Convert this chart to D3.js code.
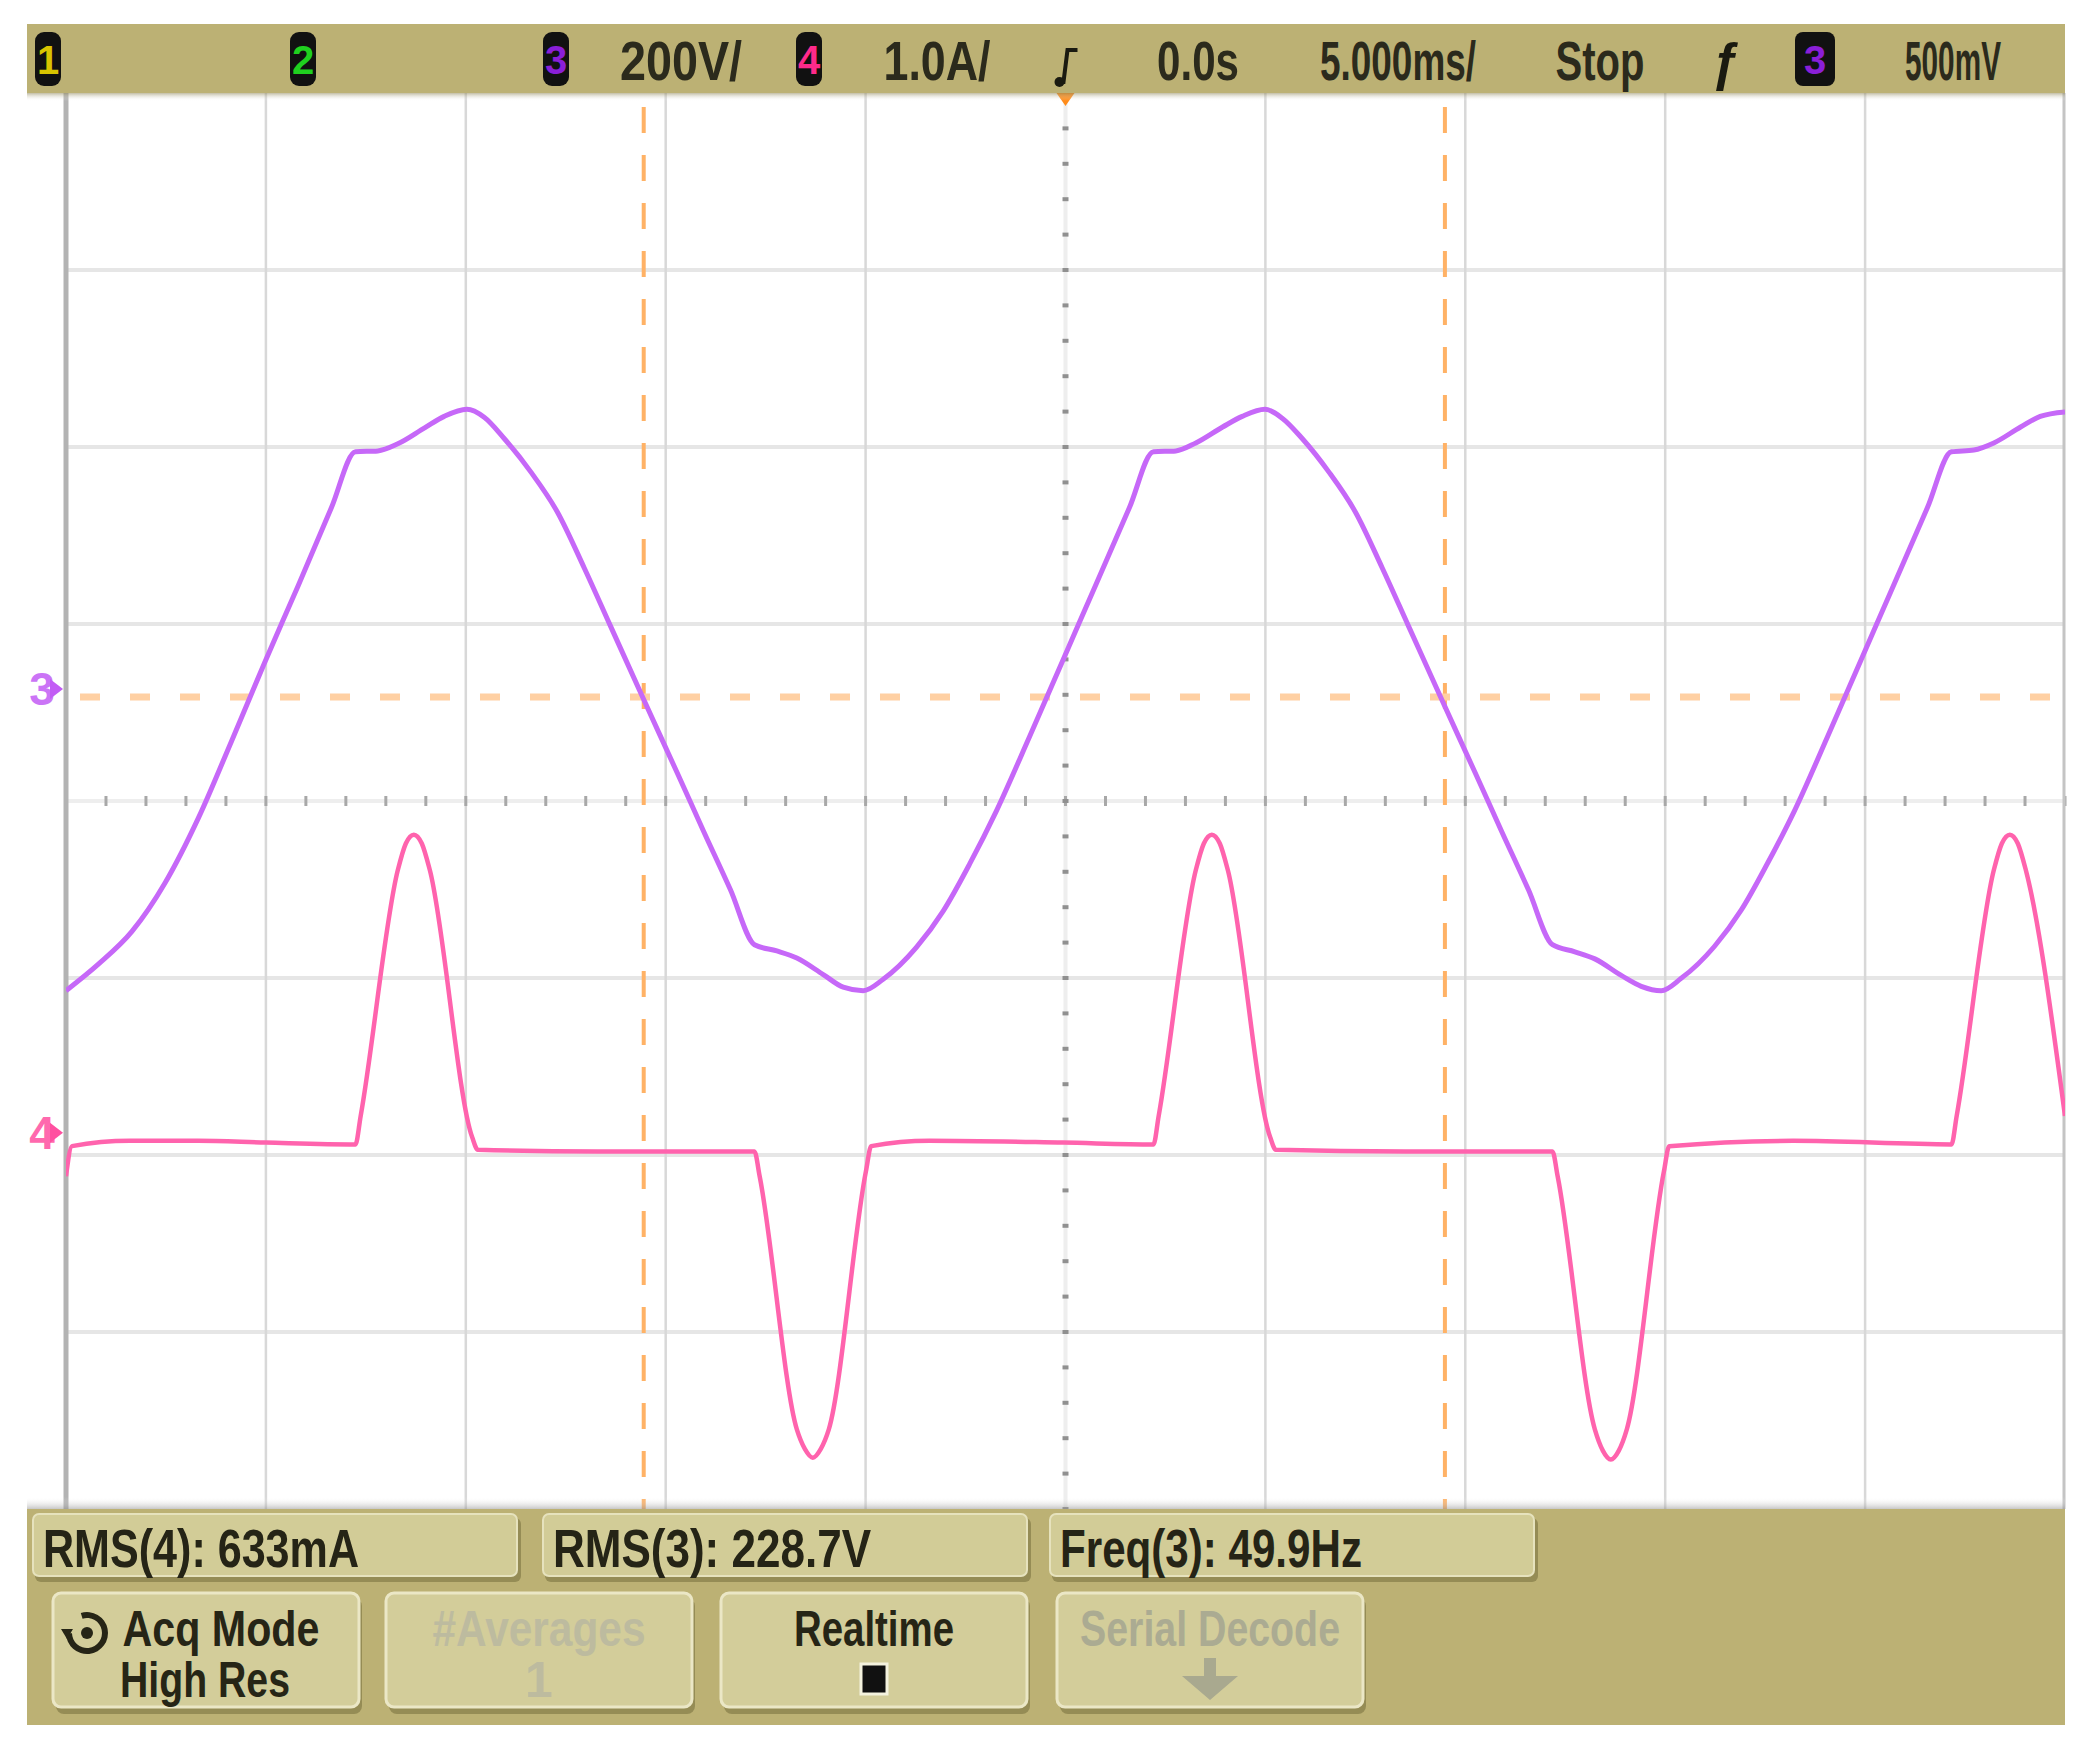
<!DOCTYPE html>
<html>
<head>
<meta charset="utf-8">
<script src="https://cdn.jsdelivr.net/npm/d3@7"></script>
<style>
  body { margin: 0; background: #fff; }
  svg text { font-family: "Liberation Sans Narrow", "Arial Narrow", "Liberation Sans", Arial, sans-serif; }
</style>
</head>
<body>
<div id="chart"></div>
<script>
// Channel 3 (mains voltage), [time ms, volts]
const ch3Trace = [
  [-25.0,-332],[-24.19,-302],[-23.35,-265],[-22.52,-210],[-21.69,-137],[-20.86,-50],[-20.03,39],[-19.19,126],
  [-18.36,214],[-17.76,277],[-17.20,278],[-16.70,286],[-16.03,304],[-15.54,317],[-14.97,325],[-14.54,316],
  [-14.04,292],[-13.37,254],[-12.71,209],[-12.04,146],[-11.38,80],[-10.55,-3],[-9.71,-86],[-9.05,-152],
  [-8.38,-218],[-7.78,-280],[-7.22,-287],[-6.72,-295],[-6.05,-314],[-5.56,-328],[-5.06,-332],[-4.56,-319],
  [-3.73,-283],[-3.06,-242],[-2.40,-189],[-1.73,-129],[-0.90,-45],[-0.07,41],[0.77,128],[1.60,214],
  [2.20,277],[2.76,278],[3.26,287],[3.93,305],[4.42,317],[4.99,325],[5.42,315],[5.92,292],
  [6.59,254],[7.25,209],[7.92,146],[8.58,80],[9.41,-3],[10.25,-86],[10.91,-152],[11.58,-218],
  [12.18,-280],[12.74,-288],[13.24,-296],[13.91,-315],[14.40,-327],[14.90,-332],[15.40,-318],[16.23,-282],
  [16.90,-241],[17.56,-188],[18.23,-129],[19.06,-45],[19.89,41],[20.73,128],[21.56,214],[22.16,277],
  [22.72,279],[23.22,287],[23.89,305],[24.38,317],[25.0,322]
];

// Channel 4 (current), [time ms, amps]
const ch4Trace = [
  [-25.0,-0.20],[-24.85,-0.03],[-23.4,0.0],[-21.7,0.0],[-20.0,-0.01],
  [-17.76,-0.02],[-17.63,0.14],[-16.70,1.53],[-16.50,1.68],[-16.30,1.73],[-16.10,1.68],[-15.90,1.53],
  [-14.84,0.02],[-14.70,-0.05],[-11.7,-0.06],
  [-7.78,-0.06],[-7.65,-0.20],[-6.72,-1.63],[-6.52,-1.74],[-6.32,-1.79],[-6.12,-1.74],[-5.92,-1.63],
  [-4.99,-0.17],[-4.86,-0.03],[-3.4,0.0],[-0.07,-0.01],
  [2.20,-0.02],[2.33,0.14],[3.26,1.53],[3.46,1.68],[3.66,1.73],[3.86,1.68],[4.06,1.53],
  [5.12,0.02],[5.26,-0.05],[8.5,-0.06],
  [12.18,-0.06],[12.31,-0.20],[13.24,-1.63],[13.44,-1.75],[13.64,-1.80],[13.84,-1.75],[14.04,-1.63],
  [14.97,-0.17],[15.10,-0.03],[18.2,0.0],
  [22.16,-0.02],[22.29,0.14],[23.22,1.53],[23.42,1.68],[23.62,1.73],[23.82,1.68],[24.02,1.53],
  [25.0,0.14]
];

// Cursors: two time cursors (ms) and one voltage cursor (V, channel 3)
const cursorTimes = [-10.55, 9.49];
const cursorVolts = [0];

// Status line text
const channelBadges = ['1', '2', '3', '4'];
const statusTexts = ['200V/', '1.0A/', '0.0s', '5.000ms/', 'Stop', '500mV'];
const triggerSource = '3';

// Measurement line and softkeys
const measurements = ['RMS(4): 633mA', 'RMS(3): 228.7V', 'Freq(3): 49.9Hz'];
const softkeys = [
  ['Acq Mode', 'High Res'],
  ['#Averages', '1'],
  ['Realtime', ''],
  ['Serial Decode', '']
];

function renderScope(containerId) {
  // ==========================================================================
  // STEP 1: SETUP
  // ==========================================================================
  const W = 2085, H = 1749;
  const plot = { left: 66, right: 2065, top: 93, bottom: 1509 };
  const panel = '#bcb174';

  const svg = d3.select(`#${containerId}`).append('svg')
    .attr('width', W).attr('height', H);

  // ==========================================================================
  // STEP 2: SCALES - 10 horizontal divisions at 5 ms, 8 vertical divisions
  // ==========================================================================
  const x = d3.scaleLinear().domain([-25, 25]).range([plot.left, plot.right]);
  const yDiv = d3.scaleLinear().domain([-4, 4]).range([plot.bottom, plot.top]);

  const ch3 = { perDiv: 200, offset: 0.588 };   // ground marker position in divs
  const ch4 = { perDiv: 1.0, offset: -1.92 };
  const yVolt = d3.scaleLinear()
    .domain([(-4 - ch3.offset) * ch3.perDiv, (4 - ch3.offset) * ch3.perDiv])
    .range([plot.bottom, plot.top]);
  const yAmp = d3.scaleLinear()
    .domain([(-4 - ch4.offset) * ch4.perDiv, (4 - ch4.offset) * ch4.perDiv])
    .range([plot.bottom, plot.top]);

  // ==========================================================================
  // STEP 3: GRATICULE
  // ==========================================================================
  const grid = svg.append('g');
  grid.append('rect')
    .attr('x', 27).attr('y', plot.top)
    .attr('width', plot.right - 27).attr('height', plot.bottom - plot.top)
    .attr('fill', '#fff');

  grid.selectAll('.hgrid')
    .data(d3.range(-3, 4).filter(d => d !== 0))
    .enter().append('line')
    .attr('x1', plot.left).attr('x2', plot.right)
    .attr('y1', d => yDiv(d)).attr('y2', d => yDiv(d))
    .attr('stroke', '#e6e6e6').attr('stroke-width', 4);

  grid.selectAll('.vgrid')
    .data(d3.range(-20, 21, 5).filter(d => d !== 0))
    .enter().append('line')
    .attr('x1', d => x(d)).attr('x2', d => x(d))
    .attr('y1', plot.top).attr('y2', plot.bottom)
    .attr('stroke', '#d8d8d8').attr('stroke-width', 2.5);

  // center axes: light line with minor ticks every 1/5 div
  grid.append('line')
    .attr('x1', plot.left).attr('x2', plot.right)
    .attr('y1', yDiv(0)).attr('y2', yDiv(0))
    .attr('stroke', '#eeeeee').attr('stroke-width', 4);
  grid.append('line')
    .attr('x1', x(0)).attr('x2', x(0))
    .attr('y1', plot.top).attr('y2', plot.bottom)
    .attr('stroke', '#eeeeee').attr('stroke-width', 4);
  grid.selectAll('.xminor')
    .data(d3.range(-25, 25.01, 1))
    .enter().append('line')
    .attr('x1', d => x(d)).attr('x2', d => x(d))
    .attr('y1', yDiv(0) - 5).attr('y2', yDiv(0) + 5)
    .attr('stroke', '#a8a8a8').attr('stroke-width', 3);
  grid.selectAll('.yminor')
    .data(d3.range(-4, 4.01, 0.2))
    .enter().append('line')
    .attr('x1', x(0) - 3).attr('x2', x(0) + 3)
    .attr('y1', d => yDiv(d)).attr('y2', d => yDiv(d))
    .attr('stroke', '#909090').attr('stroke-width', 4);

  // borders
  grid.append('line')
    .attr('x1', plot.left).attr('x2', plot.left)
    .attr('y1', plot.top).attr('y2', plot.bottom)
    .attr('stroke', '#b3b3b3').attr('stroke-width', 5);
  grid.append('line')
    .attr('x1', plot.right - 1).attr('x2', plot.right - 1)
    .attr('y1', plot.top).attr('y2', plot.bottom)
    .attr('stroke', '#c4c4c4').attr('stroke-width', 3);

  // ==========================================================================
  // STEP 4: CURSORS
  // ==========================================================================
  svg.append('g').selectAll('line')
    .data(cursorTimes)
    .enter().append('line')
    .attr('x1', d => x(d)).attr('x2', d => x(d))
    .attr('y1', plot.top + 14).attr('y2', plot.bottom)
    .attr('stroke', '#ffb266').attr('stroke-width', 4)
    .attr('stroke-dasharray', '26 22');

  svg.append('g').selectAll('line')
    .data(cursorVolts)
    .enter().append('line')
    .attr('x1', plot.left + 14).attr('x2', plot.right)
    .attr('y1', d => yVolt(d)).attr('y2', d => yVolt(d))
    .attr('stroke', '#ffd0a3').attr('stroke-width', 7)
    .attr('stroke-dasharray', '20 30');

  // ==========================================================================
  // STEP 5: TRACES
  // ==========================================================================
  svg.append('clipPath').attr('id', 'clip')
    .append('rect')
    .attr('x', plot.left).attr('y', plot.top)
    .attr('width', plot.right - plot.left).attr('height', plot.bottom - plot.top);

  const traces = svg.append('g').attr('clip-path', 'url(#clip)');

  traces.append('path')
    .datum(ch3Trace)
    .attr('fill', 'none')
    .attr('stroke', '#c668f8')
    .attr('stroke-width', 5)
    .attr('stroke-linejoin', 'round')
    .attr('d', d3.line().x(d => x(d[0])).y(d => yVolt(d[1])).curve(d3.curveMonotoneX));

  traces.append('path')
    .datum(ch4Trace)
    .attr('fill', 'none')
    .attr('stroke', '#ff63ad')
    .attr('stroke-width', 4.5)
    .attr('stroke-linejoin', 'round')
    .attr('d', d3.line().x(d => x(d[0])).y(d => yAmp(d[1])).curve(d3.curveMonotoneX));

  // ground markers on the left edge
  const markers = [
    { label: '3', y: yVolt(0), color: '#c25cf5' },
    { label: '4', y: yAmp(0), color: '#ff4fa0' }
  ];
  const mk = svg.append('g').selectAll('g')
    .data(markers).enter().append('g')
    .attr('transform', d => `translate(0,${d.y - 8})`);
  mk.append('text')
    .attr('x', 42).attr('y', 16)
    .attr('text-anchor', 'middle')
    .attr('fill', d => d.color)
    .attr('opacity', 0.85)
    .style('font-size', '46px').style('font-weight', 'bold')
    .text(d => d.label);
  mk.append('path')
    .attr('d', 'M50,-10 L63,0 L50,10 Z')
    .attr('fill', d => d.color);

  // trigger position marker
  svg.append('path')
    .attr('d', `M${x(0) - 9},${plot.top} L${x(0) + 9},${plot.top} L${x(0)},${plot.top + 13} Z`)
    .attr('fill', '#ff8c1a');

  // ==========================================================================
  // STEP 6: STATUS LINE
  // ==========================================================================
  const defs = svg.append('defs');
  const sh = defs.append('linearGradient').attr('id', 'shade').attr('x1', 0).attr('x2', 0).attr('y1', 0).attr('y2', 1);
  sh.append('stop').attr('offset', '0%').attr('stop-color', '#8f875a').attr('stop-opacity', 0.55);
  sh.append('stop').attr('offset', '100%').attr('stop-color', '#ffffff').attr('stop-opacity', 0);
  const shUp = defs.append('linearGradient').attr('id', 'shadeUp').attr('x1', 0).attr('x2', 0).attr('y1', 1).attr('y2', 0);
  shUp.append('stop').attr('offset', '0%').attr('stop-color', '#8f8f8f').attr('stop-opacity', 0.5);
  shUp.append('stop').attr('offset', '100%').attr('stop-color', '#ffffff').attr('stop-opacity', 0);

  svg.append('rect')
    .attr('x', 27).attr('y', 24).attr('width', plot.right - 27).attr('height', plot.top - 24)
    .attr('fill', panel);
  svg.append('rect')
    .attr('x', 27).attr('y', plot.top).attr('width', plot.right - 27).attr('height', 8)
    .attr('fill', 'url(#shade)');

  const badgeX = [48, 303, 556, 809];
  const badgeColors = ['#d8c400', '#1fd01f', '#8a1fd8', '#ff2a8a'];
  const badges = svg.append('g').selectAll('g')
    .data(channelBadges).enter().append('g')
    .attr('transform', (d, i) => `translate(${badgeX[i]},59)`);
  badges.append('rect')
    .attr('x', -13).attr('y', -27).attr('width', 26).attr('height', 54).attr('rx', 9)
    .attr('fill', '#111');
  badges.append('text')
    .attr('text-anchor', 'middle').attr('y', 15)
    .attr('fill', (d, i) => badgeColors[i])
    .style('font-size', '40px').style('font-weight', 'bold')
    .text(d => d);

  const statusX = [681, 937, 1198, 1398, 1600, 1953];
  const statusW = [122, 107, 82, 156, 89, 96];
  svg.append('g').selectAll('text')
    .data(statusTexts).enter().append('text')
    .attr('x', (d, i) => statusX[i] - statusW[i] / 2).attr('y', 80)
    .attr('textLength', (d, i) => statusW[i])
    .attr('lengthAdjust', 'spacingAndGlyphs')
    .attr('fill', '#2b2a1c')
    .style('font-size', '56px').style('font-weight', 'bold')
    .text(d => d);

  // trigger edge icon
  const tx = x(0);
  svg.append('path')
    .attr('d', `M${tx - 10},${82} L${tx - 2},${82} L${tx + 2},${50} L${tx + 12},${50}`)
    .attr('fill', 'none').attr('stroke', '#1a1a10').attr('stroke-width', 4);
  svg.append('circle').attr('cx', tx - 6).attr('cy', 82).attr('r', 5).attr('fill', '#1a1a10');
  svg.append('text')
    .attr('x', 1725).attr('y', 80).attr('text-anchor', 'middle')
    .attr('fill', '#1a1a10').style('font-size', '52px').style('font-style', 'italic').style('font-weight', 'bold')
    .text('ƒ');
  const trig = svg.append('g').attr('transform', 'translate(1815,59)');
  trig.append('rect')
    .attr('x', -20).attr('y', -27).attr('width', 40).attr('height', 54).attr('rx', 8)
    .attr('fill', '#111');
  trig.append('text')
    .attr('text-anchor', 'middle').attr('y', 15)
    .attr('fill', '#8a1fd8')
    .style('font-size', '40px').style('font-weight', 'bold')
    .text(triggerSource);

  // ==========================================================================
  // STEP 7: MEASUREMENTS AND SOFTKEYS
  // ==========================================================================
  svg.append('rect')
    .attr('x', 27).attr('y', plot.bottom).attr('width', plot.right - 27).attr('height', 1725 - plot.bottom)
    .attr('fill', panel);
  svg.append('rect')
    .attr('x', 27).attr('y', plot.bottom - 12).attr('width', plot.right - 27).attr('height', 12)
    .attr('fill', 'url(#shadeUp)');

  const measX = [33, 543, 1050];
  const measTextW = [316, 318, 302];
  const meas = svg.append('g').selectAll('g')
    .data(measurements).enter().append('g')
    .attr('transform', (d, i) => `translate(${measX[i]},1514)`);
  meas.append('rect')
    .attr('x', 2).attr('y', 4).attr('width', 486).attr('height', 64).attr('rx', 6)
    .attr('fill', '#958c55');
  meas.append('rect')
    .attr('width', 484).attr('height', 62).attr('rx', 6)
    .attr('fill', '#d2cc97').attr('stroke', '#e6e2bd').attr('stroke-width', 2);
  meas.append('text')
    .attr('x', 10).attr('y', 53)
    .attr('textLength', (d, i) => measTextW[i])
    .attr('lengthAdjust', 'spacingAndGlyphs')
    .attr('fill', '#252416')
    .style('font-size', '54px').style('font-weight', 'bold')
    .text(d => d);

  const keyX = [53, 386, 721, 1057];
  const keyColors = ['#262516', '#bdbb9f', '#262516', '#abab92'];
  const keyW1 = [197, 213, 160, 260];
  const keyW2 = [170, 0, 0, 0];
  const keys = svg.append('g').selectAll('g')
    .data(softkeys).enter().append('g')
    .attr('transform', (d, i) => `translate(${keyX[i]},1593)`);
  keys.append('rect')
    .attr('x', 3).attr('y', 5).attr('width', 306).attr('height', 116).attr('rx', 8)
    .attr('fill', '#958c55');
  keys.append('rect')
    .attr('width', 306).attr('height', 114).attr('rx', 8)
    .attr('fill', '#d3cd9a').attr('stroke', '#ebe7c6').attr('stroke-width', 3);
  keys.append('text')
    .attr('x', (d, i) => (i === 0 ? 168 : 153) - keyW1[i] / 2).attr('y', 53)
    .attr('textLength', (d, i) => keyW1[i])
    .attr('lengthAdjust', 'spacingAndGlyphs')
    .attr('fill', (d, i) => keyColors[i])
    .style('font-size', '50px').style('font-weight', 'bold')
    .text(d => d[0]);
  keys.append('text')
    .attr('x', (d, i) => keyW2[i] ? 152 - keyW2[i] / 2 : 153).attr('y', 104)
    .attr('text-anchor', (d, i) => keyW2[i] ? 'start' : 'middle')
    .each(function (d, i) { if (keyW2[i]) d3.select(this).attr('textLength', keyW2[i]).attr('lengthAdjust', 'spacingAndGlyphs'); })
    .attr('fill', (d, i) => keyColors[i])
    .style('font-size', '50px').style('font-weight', 'bold')
    .text(d => d[1]);

  // Acq mode knob icon
  const knob = svg.append('g').attr('transform', 'translate(87,1633)');
  knob.append('path')
    .attr('d', d3.arc()({ innerRadius: 15, outerRadius: 21, startAngle: -0.3, endAngle: 4.7 }))
    .attr('fill', '#262516');
  knob.append('circle').attr('r', 6).attr('fill', '#262516');
  knob.append('path').attr('d', 'M-26,-4 L-14,-4 L-20,6 Z').attr('fill', '#262516');

  // Realtime checkbox
  svg.append('rect')
    .attr('x', 861).attr('y', 1664).attr('width', 26).attr('height', 30)
    .attr('fill', '#111').attr('stroke', '#f4f2de').attr('stroke-width', 3);

  // Serial decode arrow
  svg.append('path')
    .attr('d', 'M1204,1658 L1216,1658 L1216,1676 L1238,1676 L1210,1700 L1182,1676 L1204,1676 Z')
    .attr('fill', '#a9a98f');
}

renderScope('chart');
</script>
</body>
</html>
